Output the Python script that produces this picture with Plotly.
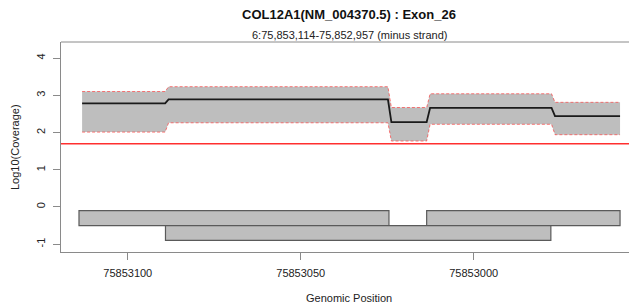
import plotly.graph_objects as go

# ---- data ----
cov_pos = [75853113.2, 75853089.2, 75853088.2, 75853024.8, 75853023.8,
           75853013.6, 75853012.6, 75852977.5, 75852976.5, 75852957.7]
cov_mean = [2.78, 2.78, 2.89, 2.89, 2.28, 2.28, 2.66, 2.66, 2.44, 2.44]
cov_upper = [3.10, 3.10, 3.23, 3.23, 2.67, 2.67, 3.04, 3.04, 2.81, 2.81]
cov_lower = [2.01, 2.01, 2.26, 2.26, 1.77, 1.77, 2.22, 2.22, 1.94, 1.94]
threshold = 1.699  # log10(50)

box_start = [75853114.1, 75853013.6, 75853089.1]
box_end = [75853024.5, 75852957.7, 75852977.7]
box_top = [-0.1, -0.1, -0.5]
box_bottom = [-0.5, -0.5, -0.9]

x_tickvals = [75853100, 75853050, 75853000]
x_ticktext = ["75853100", "75853050", "75853000"]
y_tickvals = [-1, 0, 1, 2, 3, 4]
y_ticktext = ["-1", "0", "1", "2", "3", "4"]

title = "COL12A1(NM_004370.5) : Exon_26"
subtitle = "6:75,853,114-75,852,957 (minus strand)"
xlabel = "Genomic Position"
ylabel = "Log10(Coverage)"

FONT = "Liberation Sans, Arial, Helvetica, sans-serif"
AXIS_COL = "#8a8a8a"
RED_DASH = "rgba(255,40,40,0.6)"

# the page body has an 8px default margin; the figure is sized/offset for it
BODY = 8

fig = go.Figure()

fig.add_trace(go.Scatter(x=cov_pos, y=cov_upper, mode="lines",
                         line=dict(color=RED_DASH, width=1, dash="3px,2px"),
                         hoverinfo="skip", showlegend=False))
fig.add_trace(go.Scatter(x=cov_pos, y=cov_lower, mode="lines", fill="tonexty",
                         fillcolor="#BEBEBE",
                         line=dict(color=RED_DASH, width=1, dash="3px,2px"),
                         hoverinfo="skip", showlegend=False))
fig.add_trace(go.Scatter(x=cov_pos, y=cov_mean, mode="lines",
                         line=dict(color="#1a1a1a", width=1.8),
                         hoverinfo="skip", showlegend=False))

shapes = []
shapes.append(dict(type="line", xref="paper", yref="y", x0=0, x1=1,
                   y0=threshold, y1=threshold,
                   line=dict(color="#ff3030", width=1.6)))
for xs, xe, yt, yb in zip(box_start, box_end, box_top, box_bottom):
    shapes.append(dict(type="rect", xref="x", yref="y", x0=xs, x1=xe,
                       y0=yb, y1=yt, fillcolor="#BEBEBE",
                       line=dict(color="#5a5a5a", width=1.2)))
shapes.append(dict(type="line", xref="paper", yref="paper", x0=0, x1=1,
                   y0=1, y1=1, line=dict(color=AXIS_COL, width=1)))

fig.update_layout(
    width=637 - BODY, height=308 - BODY,
    margin=dict(l=61 - BODY, r=0, t=42 - BODY, b=56, pad=0),
    paper_bgcolor="white", plot_bgcolor="white",
    font=dict(family=FONT, size=11, color="#222"),
    shapes=shapes,
    showlegend=False,
    annotations=[
        dict(text="<b>" + title + "</b>", xref="paper", yref="paper",
             x=0.5, y=1, yshift=28, xanchor="center", yanchor="middle",
             showarrow=False, font=dict(size=13, color="#111", family=FONT)),
        dict(text=subtitle, xref="paper", yref="paper",
             x=0.5, y=1, yshift=7, xanchor="center", yanchor="middle",
             showarrow=False, font=dict(size=11, color="#222", family=FONT)),
        dict(text=xlabel, xref="paper", yref="paper",
             x=0.5, y=0, yshift=-46, xanchor="center", yanchor="middle",
             showarrow=False, font=dict(size=11, color="#222", family=FONT)),
        dict(text=ylabel, xref="paper", yref="paper",
             x=0, y=0.5, xshift=-46, xanchor="center", yanchor="middle",
             textangle=-90, showarrow=False,
             font=dict(size=11, color="#222", family=FONT)),
    ],
)

fig.update_xaxes(range=[75853119.3, 75852952.8], showgrid=False, zeroline=False,
                 showline=True, linecolor=AXIS_COL, linewidth=1,
                 ticks="outside", ticklen=7, tickcolor=AXIS_COL, tickwidth=1,
                 tickvals=x_tickvals, ticktext=x_ticktext,
                 ticklabelstandoff=4,
                 tickfont=dict(size=11, color="#222", family=FONT))
fig.update_yaxes(range=[-1.21, 4.43], showgrid=False, zeroline=False,
                 showline=True, linecolor=AXIS_COL, linewidth=1,
                 ticks="outside", ticklen=7, tickcolor=AXIS_COL, tickwidth=1,
                 tickvals=y_tickvals, ticktext=y_ticktext, tickangle=-90,
                 ticklabelstandoff=4,
                 tickfont=dict(size=11, color="#222", family=FONT))

fig.write_html("out.html")
